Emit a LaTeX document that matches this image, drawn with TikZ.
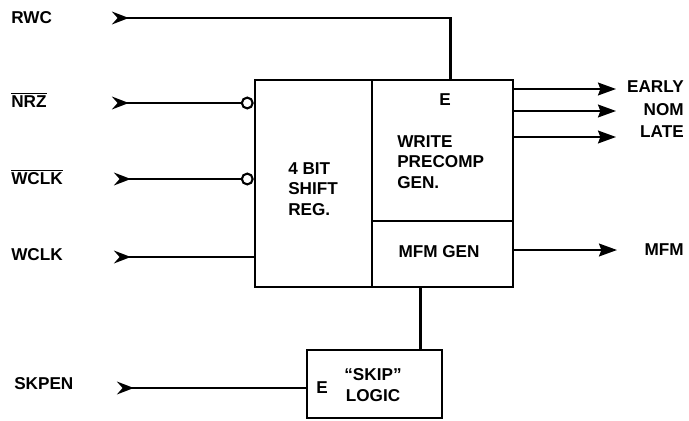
\documentclass[tikz,border=0pt]{standalone}
\usepackage{fontspec}
\setmainfont{Liberation Sans}
\usetikzlibrary{arrows.meta,positioning,calc}

\begin{document}
\begin{tikzpicture}[
  x=0.025cm, y=-0.025cm,
  blk/.style={draw, line width=1.8pt, inner sep=0pt},
  txt/.style={font=\fontsize{12.2}{14.5}\selectfont\bfseries, align=left, inner sep=0pt},
  sig/.style={line width=1.6pt},
  insig/.style={sig, {Stealth[reversed, length=0.42cm, width=0.32cm, inset=0.14cm]}-},
  outsig/.style={sig, -{Stealth[length=0.45cm, width=0.32cm, inset=0.06cm]}},
  bubble/.style={circle, draw, line width=1.5pt, fill=white, inner sep=0pt, minimum size=0.27cm}
]
\useasboundingbox (0,0) rectangle (689,420);

% Blocks
\node[blk, minimum width=2.925cm, minimum height=5.175cm] (shift) at (313.5,183.5) {};
\node[blk, minimum width=3.525cm, minimum height=3.525cm] (precomp) at (442.5,150.5) {};
\node[blk, minimum width=3.525cm, minimum height=1.65cm] (mfmgen) at (442.5,254) {};
\node[blk, minimum width=3.375cm, minimum height=1.7cm] (skip) at (374.5,384) {};

% Block texts
\node[txt, anchor=west] (shifttxt) at (288,189) {4 BIT\\SHIFT\\REG.};
\node[txt] (precompE) at (445,100) {E};
\node[txt, anchor=west] (precomptxt) at (397,162) {WRITE\\PRECOMP\\GEN.};
\node[txt] (mfmgentxt) at (439,252) {MFM GEN};
\node[txt] (skipE) at (322,388) {E};
\node[txt, align=center] (skiptxt) at (373,385) {``SKIP''\\LOGIC};

% Inputs
\node[txt, anchor=west] (rwc) at (11,18) {RWC};
\node[txt, anchor=west] (nrz) at (11,100) {$\overline{\mbox{NRZ}}$};
\node[txt, anchor=west] (wclkn) at (11,177) {$\overline{\mbox{WCLK}}$};
\node[txt, anchor=west] (wclk) at (11,255) {WCLK};
\node[txt, anchor=west] (skpen) at (14,384) {SKPEN};

\coordinate (rwcin) at (112,18);
\coordinate (nrzin) at (112,103);
\coordinate (wclknin) at (114,179);
\coordinate (wclkin) at (114,257);
\coordinate (skpenin) at (117,388);

\node[bubble, anchor=east] (nrzb) at (nrzin -| shift.west) {};
\node[bubble, anchor=east] (wclknb) at (wclknin -| shift.west) {};

\draw[insig] (rwcin) -| ([xshift=0.2cm]precomp.north);
\draw[insig] (nrzin) -- (nrzb);
\draw[insig] (wclknin) -- (wclknb);
\draw[insig] (wclkin) -- (wclkin -| shift.west);
\draw[insig] (skpenin) -- (skpenin -| skip.west);
\draw[sig] ([xshift=-0.55cm]mfmgen.south) -- ([xshift=-0.55cm]mfmgen.south |- skip.north);

% Outputs
\node[txt, anchor=east] (early) at (684,87) {EARLY};
\node[txt, anchor=east] (nom) at (684,110) {NOM};
\node[txt, anchor=east] (late) at (684,132) {LATE};
\node[txt, anchor=east] (mfm) at (684,250) {MFM};

\draw[outsig] (precomp.east |- 0,89) -- (616,89);
\draw[outsig] (precomp.east |- 0,111) -- (616,111);
\draw[outsig] (precomp.east |- 0,137) -- (616,137);
\draw[outsig] (mfmgen.east |- 0,250) -- (617,250);
\end{tikzpicture}
\end{document}
